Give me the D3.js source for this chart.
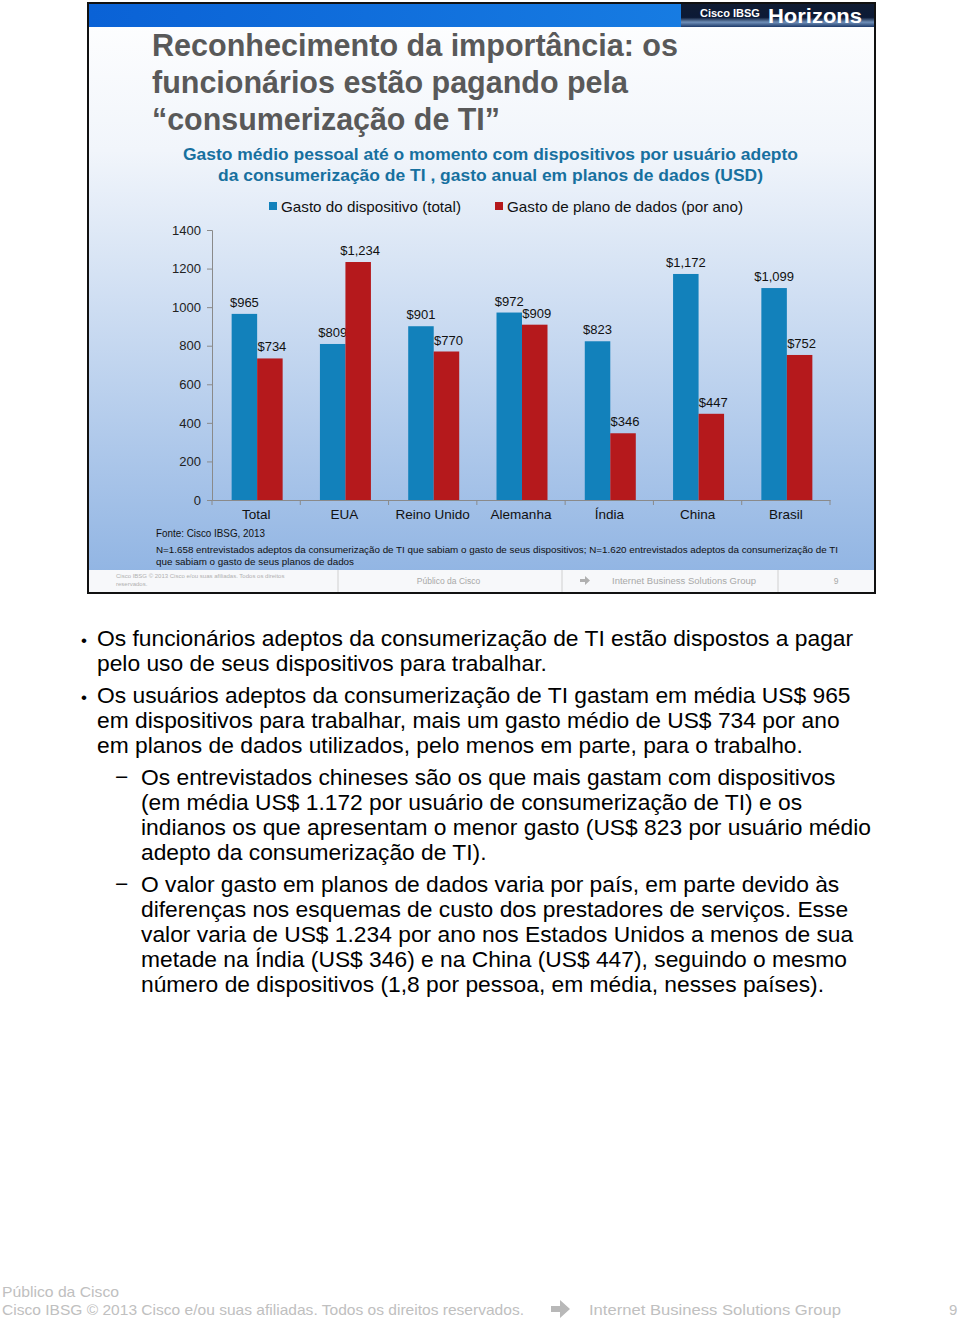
<!DOCTYPE html>
<html><head><meta charset="utf-8">
<script src="https://cdn.jsdelivr.net/npm/d3@7"></script>
<style>html,body{margin:0;padding:0;background:#fff;} svg{display:block;}</style>
</head><body>
<script>
const categories = ["Total","EUA","Reino Unido","Alemanha","Índia","China","Brasil"];
const deviceSpend = [965, 809, 901, 972, 823, 1172, 1099];
const dataPlanSpend = [734, 1234, 770, 909, 346, 447, 752];
const deviceLabels = ["$965","$809","$901","$972","$823","$1,172","$1,099"];
const planLabels = ["$734","$1,234","$770","$909","$346","$447","$752"];
const yTicks = [0,200,400,600,800,1000,1200,1400];
const seriesNames = ["Gasto do dispositivo (total)","Gasto de plano de dados (por ano)"];
const titleLines = ["Reconhecimento da importância: os","funcionários estão pagando pela","“consumerização de TI”"];
const subtitleLines = ["Gasto médio pessoal até o momento com dispositivos por usuário adepto","da consumerização de TI , gasto anual em planos de dados (USD)"];
const bullets = [
 {lvl:1, lines:["Os funcionários adeptos da consumerização de TI estão dispostos a pagar","pelo uso de seus dispositivos para trabalhar."]},
 {lvl:1, lines:["Os usuários adeptos da consumerização de TI gastam em média US$ 965","em dispositivos para trabalhar, mais um gasto médio de US$ 734 por ano","em planos de dados utilizados, pelo menos em parte, para o trabalho."]},
 {lvl:2, lines:["Os entrevistados chineses são os que mais gastam com dispositivos","(em média US$ 1.172 por usuário de consumerização de TI) e os","indianos os que apresentam o menor gasto (US$ 823 por usuário médio","adepto da consumerização de TI)."]},
 {lvl:2, lines:["O valor gasto em planos de dados varia por país, em parte devido às","diferenças nos esquemas de custo dos prestadores de serviços. Esse","valor varia de US$ 1.234 por ano nos Estados Unidos a menos de sua","metade na Índia (US$ 346) e na China (US$ 447), seguindo o mesmo","número de dispositivos (1,8 por pessoa, em média, nesses países)."]}
];

const W = 960, H = 1319;
const svg = d3.select("body").append("svg").attr("width", W).attr("height", H);
const defs = svg.append("defs");
const F = "'Liberation Sans', Arial, sans-serif";

// gradients
const bg = defs.append("linearGradient").attr("id","bg").attr("x1",0).attr("y1",0).attr("x2",0).attr("y2",1);
bg.append("stop").attr("offset","0").attr("stop-color","#ffffff");
bg.append("stop").attr("offset","0.25").attr("stop-color","#f1f5fb");
bg.append("stop").attr("offset","1").attr("stop-color","#8db2e2");
const hb = defs.append("linearGradient").attr("id","hb").attr("x1",0).attr("y1",0).attr("x2",1).attr("y2",0);
hb.append("stop").attr("offset","0").attr("stop-color","#0a62d6");
hb.append("stop").attr("offset","1").attr("stop-color","#1b84e6");
const hz = defs.append("linearGradient").attr("id","hz").attr("x1",0).attr("y1",0).attr("x2",0).attr("y2",1);
hz.append("stop").attr("offset","0").attr("stop-color","#101c33");
hz.append("stop").attr("offset","0.6").attr("stop-color","#0c1a36");
hz.append("stop").attr("offset","0.8").attr("stop-color","#6f8fb8");
hz.append("stop").attr("offset","1").attr("stop-color","#1d3a6a");

// slide
svg.append("rect").attr("x",88).attr("y",3).attr("width",787).attr("height",590).attr("fill","url(#bg)");
svg.append("rect").attr("x",89).attr("y",4).attr("width",785).attr("height",23).attr("fill","url(#hb)");
svg.append("rect").attr("x",681).attr("y",3).attr("width",193).attr("height",24).attr("fill","url(#hz)");
svg.append("text").attr("x",700).attr("y",17).attr("font-family",F).attr("font-weight","bold").attr("font-size",11).attr("fill","#fff").text("Cisco IBSG");
svg.append("text").attr("x",768).attr("y",23).attr("font-family",F).attr("font-weight","bold").attr("font-size",20).attr("fill","#fff").attr("textLength",94).attr("lengthAdjust","spacingAndGlyphs").text("Horizons");

// title
const titleW = [526, 476, 348];
titleLines.forEach((t,i)=>{
  svg.append("text").attr("x",152).attr("y",56+i*37).attr("font-family",F).attr("font-weight","bold")
   .attr("font-size",31).attr("fill","#595959").attr("textLength",titleW[i]).attr("lengthAdjust","spacingAndGlyphs").text(t);
});
// subtitle
const subW = [615, 545];
subtitleLines.forEach((t,i)=>{
  svg.append("text").attr("x",490.5).attr("y",160+i*21).attr("text-anchor","middle").attr("font-family",F).attr("font-weight","bold")
   .attr("font-size",17).attr("fill","#17709f").attr("textLength",subW[i]).attr("lengthAdjust","spacingAndGlyphs").text(t);
});

// legend
const colors = ["#1281bb","#b5191c"];
const legX = [269, 495], legW = [180, 236];
seriesNames.forEach((n,i)=>{
  svg.append("rect").attr("x",legX[i]).attr("y",202).attr("width",8).attr("height",8).attr("fill",colors[i]);
  svg.append("text").attr("x",legX[i]+12).attr("y",211.5).attr("font-family",F).attr("font-size",14.5).attr("fill","#111")
   .attr("textLength",legW[i]).attr("lengthAdjust","spacingAndGlyphs").text(n);
});

// chart
const x = d3.scaleBand().domain(categories).range([212, 830]).padding(0);
const y = d3.scaleLinear().domain([0,1400]).range([500,230]);
const bw = 25.5;

const yAxis = svg.append("g").attr("transform","translate(212,0)")
  .call(d3.axisLeft(y).tickValues(yTicks).tickFormat(d3.format("d")).tickSize(5).tickPadding(6));
yAxis.select(".domain").attr("stroke","#8a8a8a");
yAxis.selectAll(".tick line").attr("stroke","#8a8a8a");
yAxis.selectAll("text").attr("font-family",F).attr("font-size",13).attr("fill","#222");

const xAxis = svg.append("g").attr("transform","translate(0,500)")
  .call(d3.axisBottom(x).tickSize(0).tickPadding(9));
xAxis.select(".domain").attr("stroke","#8a8a8a");
xAxis.selectAll("text").attr("font-family",F).attr("font-size",13.5).attr("fill","#111");
// boundary ticks
svg.append("g").selectAll("line").data(categories.concat(["end"])).join("line")
  .attr("x1",(d,i)=> i<categories.length ? x(d) : x.range()[1])
  .attr("x2",(d,i)=> i<categories.length ? x(d) : x.range()[1])
  .attr("y1",500).attr("y2",505).attr("stroke","#8a8a8a");

const series = [deviceSpend, dataPlanSpend];
const labels = [deviceLabels, planLabels];
series.forEach((vals,si)=>{
  const g = svg.append("g");
  g.selectAll("rect").data(vals).join("rect")
   .attr("x",(d,i)=> x(categories[i]) + x.bandwidth()/2 + 1 - bw + si*bw)
   .attr("y",d=>y(d)).attr("width",bw).attr("height",d=>y(0)-y(d)).attr("fill",colors[si]);
  g.selectAll("text").data(vals).join("text")
   .attr("x",(d,i)=> x(categories[i]) + x.bandwidth()/2 + 1 - bw + si*bw + bw/2 + si*2)
   .attr("y",d=>y(d)-7).attr("text-anchor","middle").attr("font-family",F).attr("font-size",13).attr("fill","#111")
   .text((d,i)=>labels[si][i]);
});

// source notes
svg.append("text").attr("x",156).attr("y",537).attr("font-family",F).attr("font-size",10.5).attr("fill","#111")
  .attr("textLength",109).attr("lengthAdjust","spacingAndGlyphs").text("Fonte: Cisco IBSG, 2013");
svg.append("text").attr("x",156).attr("y",552.5).attr("font-family",F).attr("font-size",9.5).attr("fill","#111")
  .attr("textLength",682).attr("lengthAdjust","spacingAndGlyphs")
  .text("N=1.658 entrevistados adeptos da consumerização de TI que sabiam o gasto de seus dispositivos; N=1.620 entrevistados adeptos da consumerização de TI");
svg.append("text").attr("x",156).attr("y",564.5).attr("font-family",F).attr("font-size",9.5).attr("fill","#111")
  .attr("textLength",198).attr("lengthAdjust","spacingAndGlyphs").text("que sabiam o gasto de seus planos de dados");

// slide footer
svg.append("rect").attr("x",89).attr("y",570).attr("width",785).attr("height",22).attr("fill","#f7f8fa");
[338,562,778].forEach(xx=> svg.append("line").attr("x1",xx).attr("x2",xx).attr("y1",570).attr("y2",592).attr("stroke","#d0d0d0"));
svg.append("text").attr("x",116).attr("y",578).attr("font-family",F).attr("font-size",6).attr("fill","#b0b0b0").text("Cisco IBSG © 2013 Cisco e/ou suas afiliadas. Todos os direitos");
svg.append("text").attr("x",116).attr("y",586).attr("font-family",F).attr("font-size",6).attr("fill","#b0b0b0").text("reservados.");
svg.append("text").attr("x",448.5).attr("y",583.5).attr("text-anchor","middle").attr("font-family",F).attr("font-size",8.5).attr("fill","#a8a8a8").text("Público da Cisco");
svg.append("path").attr("d","M580,579 h5 v-3 l5,4.5 l-5,4.5 v-3 h-5 z").attr("fill","#b0b0b0");
svg.append("text").attr("x",684).attr("y",583.5).attr("text-anchor","middle").attr("font-family",F).attr("font-size",8.5).attr("fill","#a8a8a8").attr("textLength",144).attr("lengthAdjust","spacingAndGlyphs").text("Internet Business Solutions Group");
svg.append("text").attr("x",836).attr("y",583.5).attr("text-anchor","middle").attr("font-family",F).attr("font-size",8.5).attr("fill","#a8a8a8").text("9");

// slide border
svg.append("rect").attr("x",88).attr("y",3).attr("width",787).attr("height",590).attr("fill","none").attr("stroke","#111").attr("stroke-width",2);

// bullet text
let ly = 646;
bullets.forEach((b,bi)=>{
  const tx = b.lvl===1 ? 97 : 141;
  if (b.lvl===1) svg.append("text").attr("x",81).attr("y",ly).attr("font-family",F).attr("font-size",17).attr("fill","#000").text("•");
  else svg.append("text").attr("x",115).attr("y",ly).attr("font-family",F).attr("font-size",22.8).attr("fill","#000").text("−");
  b.lines.forEach((l,li)=>{
    svg.append("text").attr("x",tx).attr("y",ly).attr("font-family",F).attr("font-size",22.8).attr("fill","#000").text(l);
    ly += 25;
  });
  ly += 7;
});

// page footer
const FG = "#c0c0c0";
svg.append("text").attr("x",2).attr("y",1297).attr("font-family",F).attr("font-size",15).attr("fill",FG).attr("textLength",117).attr("lengthAdjust","spacingAndGlyphs").text("Público da Cisco");
svg.append("text").attr("x",2).attr("y",1315).attr("font-family",F).attr("font-size",15).attr("fill",FG).attr("textLength",522).attr("lengthAdjust","spacingAndGlyphs").text("Cisco IBSG © 2013 Cisco e/ou suas afiliadas. Todos os direitos reservados.");
svg.append("path").attr("d","M551,1306 h9 v-6 l10,9 l-10,9 v-6 h-9 z").attr("fill","#b8b8b8");
svg.append("text").attr("x",589).attr("y",1315).attr("font-family",F).attr("font-size",15).attr("fill",FG).attr("textLength",252).attr("lengthAdjust","spacingAndGlyphs").text("Internet Business Solutions Group");
svg.append("text").attr("x",949).attr("y",1315).attr("font-family",F).attr("font-size",15).attr("fill",FG).text("9");
</script>
</body></html>
